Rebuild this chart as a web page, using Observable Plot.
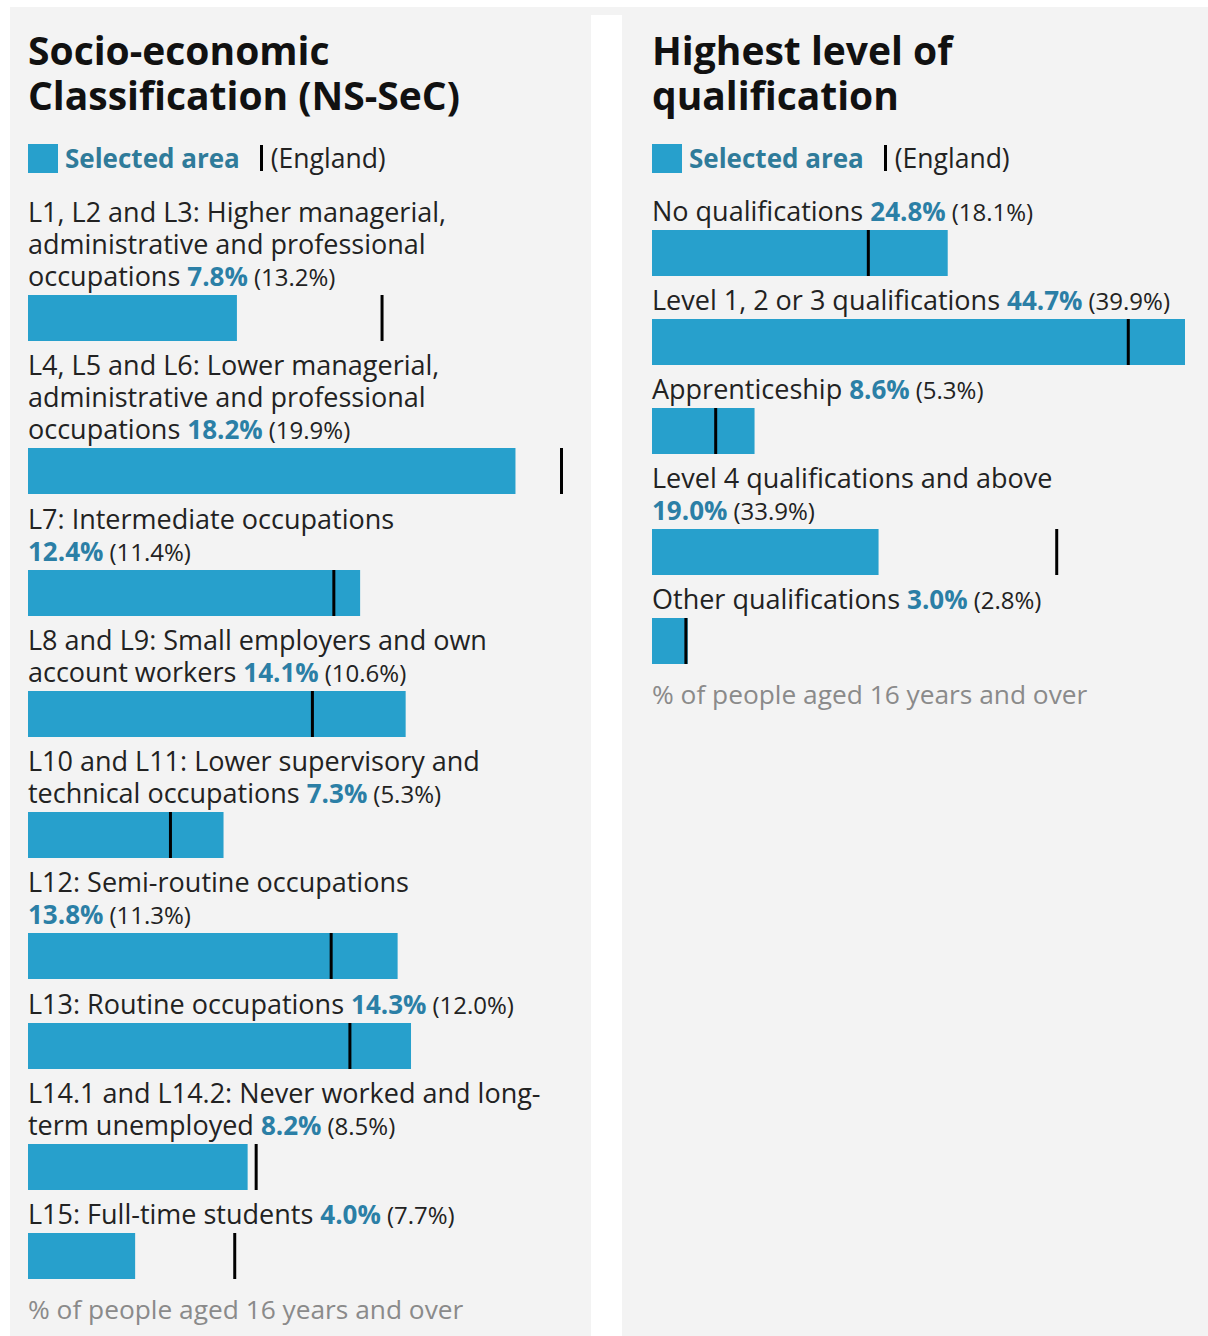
<!DOCTYPE html>
<html>
<head>
<meta charset="utf-8">
<script src="https://cdn.jsdelivr.net/npm/d3@7"></script>
<script src="https://cdn.jsdelivr.net/npm/@observablehq/plot@0.6"></script>
<style>
  html, body { margin: 0; padding: 0; background: #fff; }
  body { width: 1208px; height: 1336px; overflow: hidden; position: relative; font-family: "Open Sans", sans-serif; }
  .topstrip { position: absolute; left: 10px; top: 7px; width: 1198px; height: 8px; background: #f3f3f3; }
  .panel { position: absolute; top: 7px; bottom: 0; background: #f3f3f3; box-sizing: border-box; }
  #left { left: 10px; width: 581px; padding: 20px 0 0 18px; }
  #right { left: 622px; width: 586px; padding: 20px 0 0 30px; }
  h2 { margin: 0; font-size: 39px; line-height: 45px; font-weight: 700; color: #111; max-width: 500px; letter-spacing: 0; }
  .legend { margin-top: 25px; height: 32px; display: flex; align-items: center; line-height: 32px; }
  .swatch { width: 30px; height: 29px; background: #27a0cc; margin-right: 7px; }
  .legend .sel { font-size: 26px; font-weight: 700; color: #2f7b9a; }
  .legend .mark { width: 3px; height: 26px; background: #000; margin: 0 8px 0 20px; }
  .legend .eng { font-size: 26.5px; color: #222; }
  .items { margin-top: 21px; }
  #left .items { margin-top: 22px; }
  .item { margin-bottom: 8px; }
  #left .item { margin-bottom: 8.3px; }
  .label { font-size: 27px; line-height: 32px; color: #222; max-width: 535px; }
  .val { white-space: nowrap; line-height: 1; }
  .val b { font-size: 26px; color: #2b7fa6; font-weight: 700; line-height: 1; }
  .val span { font-size: 24px; color: #222; line-height: 1; margin-left: 6px; }
  .chart { margin-top: 3px; height: 46px; }
  .chart svg { display: block; overflow: visible; }
  .footer { margin-top: 14px; font-size: 26.3px; line-height: 32px; color: #8a8a8a; }
</style>
</head>
<body>
<div class="topstrip"></div>
<div class="panel" id="left"></div>
<div class="panel" id="right"></div>
<script>
// ---- Data ----
const nsTitle = "Socio-economic Classification (NS-SeC)";
const nsCategories = [
  "L1, L2 and L3: Higher managerial, administrative and professional occupations",
  "L4, L5 and L6: Lower managerial, administrative and professional occupations",
  "L7: Intermediate occupations",
  "L8 and L9: Small employers and own account workers",
  "L10 and L11: Lower supervisory and technical occupations",
  "L12: Semi-routine occupations",
  "L13: Routine occupations",
  "L14.1 and L14.2: Never worked and long-term unemployed",
  "L15: Full-time students"
];
const nsSelected = [7.8, 18.2, 12.4, 14.1, 7.3, 13.8, 14.3, 8.2, 4.0];
const nsEngland  = [13.2, 19.9, 11.4, 10.6, 5.3, 11.3, 12.0, 8.5, 7.7];

const qualTitle = "Highest level of qualification";
const qualCategories = [
  "No qualifications",
  "Level 1, 2 or 3 qualifications",
  "Apprenticeship",
  "Level 4 qualifications and above",
  "Other qualifications"
];
const qualSelected = [24.8, 44.7, 8.6, 19.0, 3.0];
const qualEngland  = [18.1, 39.9, 5.3, 33.9, 2.8];

const legendSelected = "Selected area";
const legendEngland = "(England)";
const footnote = "% of people aged 16 years and over";

// ---- Build ----
function buildPanel(el, title, cats, sel, eng) {
  const rows = cats.map((c, i) => ({category: c, value: sel[i], england: eng[i]}));
  const max = d3.max(rows, d => Math.max(d.value, d.england));

  const h = document.createElement("h2");
  h.textContent = title;
  el.appendChild(h);

  const lg = document.createElement("div");
  lg.className = "legend";
  lg.innerHTML = `<div class="swatch"></div><span class="sel"></span><div class="mark"></div><span class="eng"></span>`;
  lg.querySelector(".sel").textContent = legendSelected;
  lg.querySelector(".eng").textContent = legendEngland;
  el.appendChild(lg);

  const items = document.createElement("div");
  items.className = "items";
  el.appendChild(items);

  rows.forEach(d => {
    const it = document.createElement("div");
    it.className = "item";
    const lab = document.createElement("div");
    lab.className = "label";
    lab.appendChild(document.createTextNode(d.category + " "));
    const v = document.createElement("span");
    v.className = "val";
    const b = document.createElement("b");
    b.textContent = d.value.toFixed(1) + "%";
    const s = document.createElement("span");
    s.textContent = "(" + d.england.toFixed(1) + "%)";
    v.appendChild(b); v.appendChild(s);
    lab.appendChild(v);
    it.appendChild(lab);

    const ch = document.createElement("div");
    ch.className = "chart";
    ch.appendChild(Plot.plot({
      width: 540,
      height: 46,
      marginTop: 0, marginBottom: 0, marginLeft: 0, marginRight: 7,
      x: {domain: [0, max], axis: null},
      style: {background: "transparent", overflow: "visible"},
      marks: [
        Plot.barX([d], {x: "value", fill: "#27a0cc"}),
        Plot.ruleX([d], {x: "england", stroke: "#000", strokeWidth: 3})
      ]
    }));
    it.appendChild(ch);
    items.appendChild(it);
  });

  const f = document.createElement("div");
  f.className = "footer";
  f.textContent = footnote;
  el.appendChild(f);
}

buildPanel(document.getElementById("left"), nsTitle, nsCategories, nsSelected, nsEngland);
buildPanel(document.getElementById("right"), qualTitle, qualCategories, qualSelected, qualEngland);
</script>
</body>
</html>
